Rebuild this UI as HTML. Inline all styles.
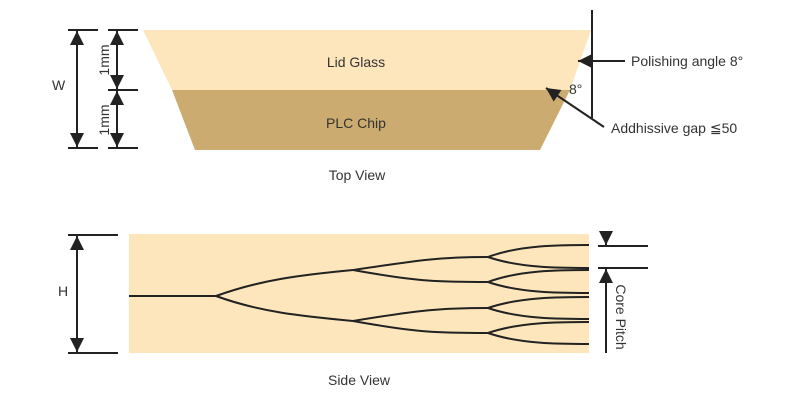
<!DOCTYPE html>
<html><head><meta charset="utf-8"><style>
html,body{margin:0;padding:0;background:#fff;width:800px;height:400px;overflow:hidden}
text{font-family:"Liberation Sans",sans-serif;font-size:14px;fill:#333}
</style></head><body>
<svg width="800" height="400" viewBox="0 0 800 400" xmlns="http://www.w3.org/2000/svg">
<defs>
<marker id="b" viewBox="0 0 10 10" refX="10" refY="5" markerWidth="14" markerHeight="14" markerUnits="userSpaceOnUse" orient="auto-start-reverse"><path d="M0,0L10,5L0,10z" fill="#222"/></marker>
</defs>
<polygon points="143,30 591,30 570,90 172,90" fill="#fde6bb"/>
<polygon points="172,90 570,90 540,150 195,150" fill="#cbab6f"/>
<text x="356" y="67" text-anchor="middle">Lid Glass</text>
<text x="356" y="128" text-anchor="middle">PLC Chip</text>
<text x="357" y="180" text-anchor="middle">Top View</text>
<g stroke="#222" stroke-width="2" fill="none">
<line x1="68" y1="30" x2="98" y2="30"/><line x1="68" y1="148" x2="98" y2="148"/>
<line x1="108" y1="30" x2="138" y2="30"/><line x1="108" y1="90" x2="138" y2="90"/><line x1="108" y1="148" x2="138" y2="148"/>
<line x1="77" y1="31" x2="77" y2="147" marker-start="url(#b)" marker-end="url(#b)"/>
<line x1="117" y1="31" x2="117" y2="89" marker-start="url(#b)" marker-end="url(#b)"/>
<line x1="117" y1="91" x2="117" y2="147" marker-start="url(#b)" marker-end="url(#b)"/>
<line x1="592" y1="10" x2="592" y2="118"/>
<line x1="625" y1="61" x2="578" y2="61" marker-end="url(#b)"/>
<line x1="604" y1="127" x2="546" y2="88" marker-end="url(#b)"/>
</g>
<text x="52" y="90">W</text>
<text transform="translate(109,60) rotate(-90)" text-anchor="middle">1mm</text>
<text transform="translate(109,120) rotate(-90)" text-anchor="middle">1mm</text>
<text x="631" y="66">Polishing angle 8°</text>
<text x="569" y="94">8°</text>
<text x="611" y="133">Addhissive gap ≦50</text>

<rect x="129" y="234" width="460" height="119" fill="#fde6bb"/>
<g stroke="#222" stroke-width="2" fill="none">
<path d="M129,296H216"/>
<path d="M216,296C260,280 300,275 353,270M216,296C260,312 300,316 353,321"/>
<path d="M353,270C420,260 440,257 488,257M353,270C420,282 440,282 488,282"/>
<path d="M353,321C420,310 440,308 488,308M353,321C420,333 440,333 488,333"/>
<path d="M488,257C520,245 560,245 589,245M488,257C520,268 560,268 589,268"/>
<path d="M488,282C520,270 560,270 589,270M488,282C520,293 560,293 589,293"/>
<path d="M488,308C520,297 560,297 589,297M488,308C520,319 560,319 589,319"/>
<path d="M488,333C520,322 560,322 589,322M488,333C520,344 560,344 589,344"/>
<line x1="68" y1="235" x2="118" y2="235"/><line x1="68" y1="353" x2="118" y2="353"/>
<line x1="77" y1="236" x2="77" y2="352" marker-start="url(#b)" marker-end="url(#b)"/>
<line x1="598" y1="246" x2="648" y2="246"/><line x1="598" y1="268" x2="648" y2="268"/>
<line x1="606" y1="235" x2="606" y2="245" marker-end="url(#b)"/>
<line x1="606" y1="353" x2="606" y2="269" marker-end="url(#b)"/>
</g>
<text x="58" y="296">H</text>
<text transform="translate(616,317) rotate(90)" text-anchor="middle">Core Pitch</text>
<text x="359" y="385" text-anchor="middle">Side View</text>
</svg>
</body></html>
